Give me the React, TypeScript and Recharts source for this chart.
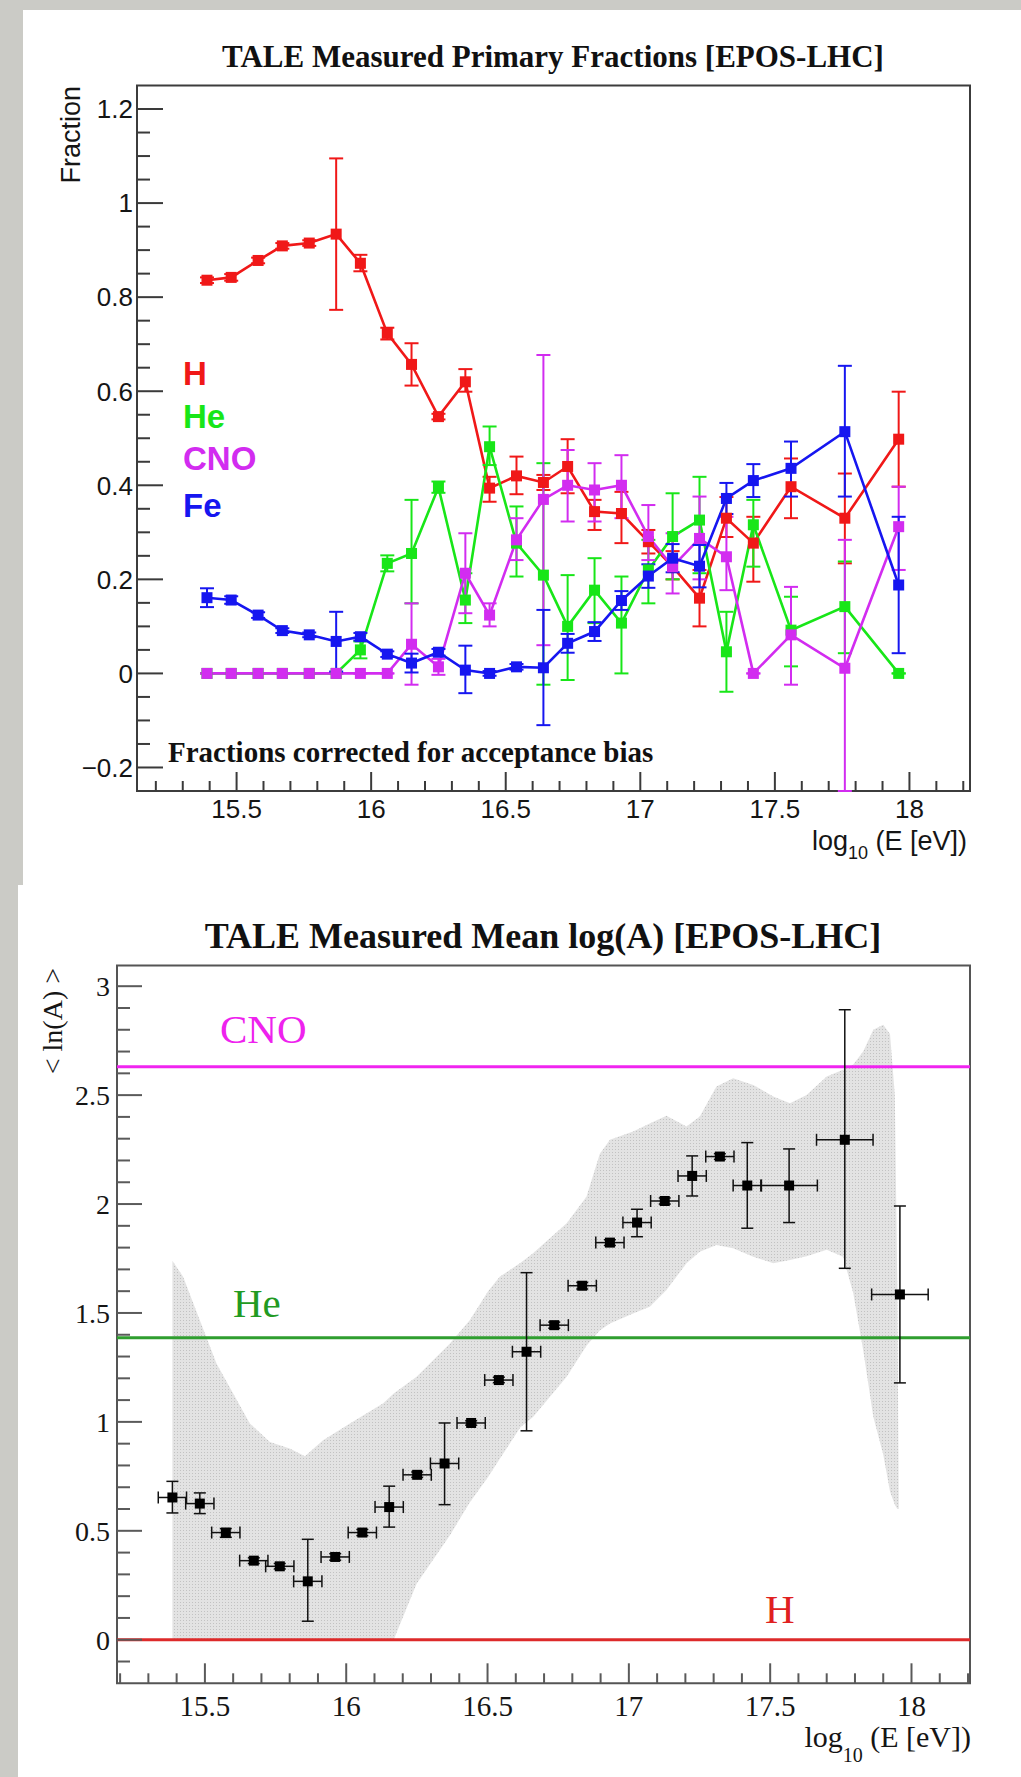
import React from 'react';
import {
  ComposedChart, Line, Area, Scatter, XAxis, YAxis, ErrorBar, ReferenceLine, ReferenceArea,
} from 'recharts';

// ---------------- Top panel: primary fractions ----------------
const energyBins = [15.39, 15.48, 15.58, 15.67, 15.77, 15.87, 15.96, 16.06, 16.15, 16.25, 16.35, 16.44, 16.54, 16.64, 16.73, 16.83, 16.93, 17.03, 17.12, 17.22, 17.32, 17.42, 17.56, 17.76, 17.96];

const hFrac = [0.836, 0.842, 0.878, 0.909, 0.915, 0.934, 0.872, 0.723, 0.657, 0.546, 0.620, 0.394, 0.420, 0.406, 0.440, 0.344, 0.340, 0.280, 0.227, 0.160, 0.330, 0.277, 0.397, 0.330, 0.498];
const hLow = [0.830, 0.835, 0.872, 0.903, 0.909, 0.773, 0.855, 0.710, 0.612, 0.540, 0.599, 0.365, 0.381, 0.390, 0.383, 0.305, 0.277, 0.255, 0.200, 0.100, 0.290, 0.195, 0.330, 0.234, 0.397];
const hHigh = [0.842, 0.849, 0.884, 0.915, 0.921, 1.095, 0.890, 0.735, 0.702, 0.552, 0.647, 0.418, 0.461, 0.422, 0.498, 0.369, 0.386, 0.305, 0.260, 0.220, 0.375, 0.333, 0.457, 0.425, 0.599];

const heFrac = [0, 0, 0, 0, 0, 0, 0.050, 0.234, 0.255, 0.396, 0.156, 0.482, 0.277, 0.209, 0.100, 0.177, 0.107, 0.220, 0.291, 0.326, 0.046, 0.316, 0.092, 0.142, 0.000];
const heLow = [0, 0, 0, 0, 0, 0, 0.032, 0.217, 0.149, 0.384, 0.107, 0.443, 0.206, -0.024, -0.014, 0.107, 0.000, 0.149, 0.200, 0.213, -0.039, 0.227, 0.015, 0.043, 0];
const heHigh = [0, 0, 0, 0, 0, 0, 0.068, 0.251, 0.369, 0.408, 0.213, 0.525, 0.355, 0.447, 0.209, 0.245, 0.206, 0.284, 0.383, 0.418, 0.131, 0.369, 0.163, 0.238, 0];

const cnoFrac = [0, 0, 0, 0, 0, 0, 0, 0, 0.062, 0.014, 0.213, 0.124, 0.284, 0.370, 0.400, 0.390, 0.400, 0.291, 0.227, 0.287, 0.248, 0.000, 0.082, 0.011, 0.312];
const cnoLow = [0, 0, 0, 0, 0, 0, 0, 0, -0.024, -0.003, 0.128, 0.100, 0.241, 0.060, 0.323, 0.323, 0.330, 0.241, 0.170, 0.200, 0.177, 0, -0.024, -0.250, 0.220];
const cnoHigh = [0, 0, 0, 0, 0, 0, 0, 0, 0.149, 0.031, 0.298, 0.149, 0.330, 0.677, 0.475, 0.447, 0.464, 0.358, 0.298, 0.376, 0.333, 0, 0.184, 0.284, 0.397];

const feFrac = [0.161, 0.156, 0.124, 0.091, 0.082, 0.068, 0.078, 0.041, 0.022, 0.045, 0.007, 0.000, 0.014, 0.012, 0.064, 0.089, 0.155, 0.207, 0.245, 0.228, 0.372, 0.410, 0.436, 0.514, 0.188];
const feLow = [0.141, 0.148, 0.118, 0.086, 0.077, 0.004, 0.070, 0.035, 0.002, 0.038, -0.042, -0.005, 0.008, -0.110, 0.044, 0.069, 0.135, 0.182, 0.215, 0.183, 0.339, 0.375, 0.376, 0.376, 0.043];
const feHigh = [0.181, 0.164, 0.130, 0.096, 0.087, 0.131, 0.086, 0.047, 0.042, 0.052, 0.059, 0.005, 0.020, 0.135, 0.084, 0.109, 0.175, 0.232, 0.275, 0.273, 0.405, 0.445, 0.493, 0.654, 0.333];

const topXMajor = [15.5, 16, 16.5, 17, 17.5, 18];
const topYMajor = [-0.2, 0, 0.2, 0.4, 0.6, 0.8, 1.0, 1.2];
const speciesNames = ['H', 'He', 'CNO', 'Fe'];
const speciesColors = ['#f01818', '#18e618', '#d22cf0', '#1616f0'];

// ---------------- Bottom panel: mean ln(A) ----------------
const lnAEnergy = [15.385, 15.482, 15.574, 15.673, 15.765, 15.864, 15.961, 16.057, 16.152, 16.251, 16.348, 16.442, 16.540, 16.638, 16.736, 16.835, 16.933, 17.029, 17.127, 17.224, 17.322, 17.419, 17.567, 17.764, 17.959];
const lnA = [0.653, 0.625, 0.492, 0.363, 0.337, 0.268, 0.380, 0.492, 0.609, 0.757, 0.809, 0.995, 1.192, 1.322, 1.444, 1.625, 1.823, 1.915, 2.014, 2.129, 2.218, 2.085, 2.085, 2.295, 1.585];
const lnALow = [0.582, 0.579, 0.470, 0.350, 0.325, 0.085, 0.365, 0.478, 0.517, 0.745, 0.620, 0.985, 1.180, 0.959, 1.430, 1.610, 1.810, 1.850, 2.000, 2.037, 2.205, 1.889, 1.915, 1.705, 1.179];
const lnAHigh = [0.727, 0.674, 0.510, 0.376, 0.350, 0.461, 0.395, 0.506, 0.705, 0.770, 0.995, 1.005, 1.205, 1.685, 1.458, 1.640, 1.836, 1.976, 2.028, 2.221, 2.231, 2.282, 2.253, 2.892, 1.991];
const binHalfWidth = [0.05, 0.05, 0.05, 0.05, 0.05, 0.05, 0.05, 0.05, 0.05, 0.05, 0.05, 0.05, 0.05, 0.05, 0.05, 0.05, 0.05, 0.05, 0.05, 0.05, 0.05, 0.05, 0.1, 0.1, 0.1];

const bandEnergy = [15.385, 15.423, 15.482, 15.541, 15.600, 15.659, 15.730, 15.800, 15.854, 15.918, 16.013, 16.131, 16.168, 16.249, 16.367, 16.437, 16.502, 16.543, 16.617, 16.661, 16.780, 16.850, 16.897, 16.933, 17.015, 17.074, 17.133, 17.204, 17.251, 17.310, 17.369, 17.440, 17.511, 17.570, 17.629, 17.700, 17.758, 17.794, 17.829, 17.865, 17.900, 17.924, 17.941, 17.950, 17.955];
const bandLow = [0, 0, 0, 0, 0, 0, 0, 0, 0, 0, 0, 0, 0, 0.257, 0.48, 0.63, 0.747, 0.83, 0.977, 1.023, 1.207, 1.35, 1.42, 1.452, 1.498, 1.528, 1.605, 1.728, 1.781, 1.812, 1.797, 1.758, 1.728, 1.743, 1.76, 1.79, 1.758, 1.59, 1.33, 1.023, 0.85, 0.68, 0.62, 0.6, 0.6];
const bandHigh = [1.74, 1.666, 1.467, 1.268, 1.13, 0.993, 0.908, 0.878, 0.842, 0.916, 0.993, 1.085, 1.13, 1.207, 1.36, 1.467, 1.6, 1.666, 1.73, 1.774, 1.912, 2.034, 2.23, 2.295, 2.333, 2.37, 2.405, 2.356, 2.402, 2.54, 2.578, 2.547, 2.494, 2.463, 2.501, 2.585, 2.616, 2.64, 2.7, 2.8, 2.823, 2.78, 2.5, 1.6, 0.6];

const massLines = [
  { name: 'H', value: 0, color: '#dd2a2a' },
  { name: 'He', value: 1.386, color: '#2f9e2f' },
  { name: 'CNO', value: 2.63, color: '#f024f0' },
];
const botXMajor = [15.5, 16, 16.5, 17, 17.5, 18];
const botYMajor = [0, 0.5, 1, 1.5, 2, 2.5, 3];

// ---------------- derived tables ----------------
const topData = energyBins.map((e, i) => ({
  x: e,
  H: hFrac[i], HErr: [hFrac[i] - hLow[i], hHigh[i] - hFrac[i]],
  He: heFrac[i], HeErr: [heFrac[i] - heLow[i], heHigh[i] - heFrac[i]],
  CNO: cnoFrac[i], CNOErr: [cnoFrac[i] - cnoLow[i], cnoHigh[i] - cnoFrac[i]],
  Fe: feFrac[i], FeErr: [feFrac[i] - feLow[i], feHigh[i] - feFrac[i]],
}));

const bandData = bandEnergy.map((e, i) => ({ x: e, band: [bandLow[i], bandHigh[i]] }));
const lnAData = lnAEnergy.map((e, i) => ({
  x: e, y: lnA[i],
  yErr: [lnA[i] - lnALow[i], lnAHigh[i] - lnA[i]],
  xErr: binHalfWidth[i],
}));

const range = (a: number, b: number, step: number) => {
  const out: number[] = [];
  const n = Math.round((b - a) / step);
  for (let k = 0; k <= n; k++) out.push(Math.round((a + k * step) * 1000) / 1000);
  return out;
};
const topXTicks = range(15.2, 18.2, 0.1);
const topYTicks = range(-0.2, 1.2, 0.05);
const botXTicks = range(15.2, 18.2, 0.1);
const botYTicks = range(-0.1, 3.0, 0.1);

const isMajor = (v: number, majors: number[]) => majors.some((m) => Math.abs(m - v) < 1e-6);
const fmt = (v: number) => String(Math.round(v * 100) / 100).replace('-', '\u2212');

const SANS = 'Liberation Sans, Arial, sans-serif';
const SERIF = 'Liberation Serif, Times New Roman, serif';

const makeXTick = (majors: number[], majLen: number, minLen: number, font: string, size: number, dy: number, stroke: string) =>
  (props: any) => {
    const { x, y, payload } = props;
    const v = Math.round(payload.value * 1000) / 1000;
    const maj = isMajor(v, majors);
    return (
      <g>
        <line x1={x} x2={x} y1={y} y2={y - (maj ? majLen : minLen)} stroke={stroke} strokeWidth={2} />
        {maj && (
          <text x={x} y={y + dy} textAnchor="middle" fontFamily={font} fontSize={size} fill="#151515">{fmt(v)}</text>
        )}
      </g>
    );
  };

const makeYTick = (majors: number[], majLen: number, minLen: number, font: string, size: number, dx: number, dy: number, stroke: string) =>
  (props: any) => {
    const { x, y, payload } = props;
    const v = Math.round(payload.value * 1000) / 1000;
    const maj = isMajor(v, majors);
    return (
      <g>
        <line x1={x} x2={x + (maj ? majLen : minLen)} y1={y} y2={y} stroke={stroke} strokeWidth={2} />
        {maj && (
          <text x={x - dx} y={y + dy} textAnchor="end" fontFamily={font} fontSize={size} fill="#151515">{fmt(v)}</text>
        )}
      </g>
    );
  };

const squareDot = (color: string, size: number) => (p: any) => {
  const key = `${color}-${p.index}`;
  if (p.cx == null || p.cy == null) return <g key={key} />;
  return <rect key={key} x={p.cx - size / 2} y={p.cy - size / 2} width={size} height={size} fill={color} />;
};

const TOP_X: [number, number] = [15.13, 18.225];
const TOP_Y: [number, number] = [-0.25, 1.25];
const BOT_X: [number, number] = [15.189, 18.207];
const BOT_Y: [number, number] = [-0.2, 3.095];

function TopChart() {
  return (
    <ComposedChart width={1021} height={885} data={topData} margin={{ left: 136, right: 51, top: 85.5, bottom: 93 }}>
      <XAxis dataKey="x" type="number" domain={TOP_X} allowDataOverflow ticks={topXTicks} interval={0}
        height={1} tickSize={0} tickMargin={0} axisLine={false} tickLine={false}
        tick={makeXTick(topXMajor, 19, 10, SANS, 26, 27, '#3a3a3a')} />
      <YAxis type="number" domain={TOP_Y} allowDataOverflow ticks={topYTicks} interval={0}
        width={1} tickSize={0} tickMargin={0} axisLine={false} tickLine={false}
        tick={makeYTick(topYMajor, 26, 13, SANS, 26, 4, 9.3, '#3a3a3a')} />
      {speciesNames.map((s, i) => (
        <Line key={s} dataKey={s} type="linear" stroke={speciesColors[i]} strokeWidth={2.6}
          dot={squareDot(speciesColors[i], 11)} activeDot={false} isAnimationActive={false}>
          <ErrorBar dataKey={`${s}Err`} direction="y" width={7} stroke={speciesColors[i]} strokeWidth={2} />
        </Line>
      ))}
      <ReferenceArea x1={TOP_X[0]} x2={TOP_X[1]} y1={TOP_Y[0]} y2={TOP_Y[1]} fill="none" fillOpacity={0}
        stroke="#3c3c3c" strokeWidth={2} ifOverflow="visible" />
    </ComposedChart>
  );
}

function BottomChart() {
  return (
    <ComposedChart width={1021} height={892} data={bandData} margin={{ left: 116, right: 51, top: 80.5, bottom: 92.7 }}>
      <defs>
        <pattern id="bandPattern" width="3" height="3" patternUnits="userSpaceOnUse">
          <rect width="3" height="3" fill="#e3e3e3" />
          <rect width="1" height="1" fill="#c2c2c2" />
        </pattern>
      </defs>
      <XAxis dataKey="x" type="number" domain={BOT_X} allowDataOverflow ticks={botXTicks} interval={0}
        height={1} tickSize={0} tickMargin={0} axisLine={false} tickLine={false}
        tick={makeXTick(botXMajor, 20, 10, SERIF, 29, 33, '#5a5a5a')} />
      <YAxis type="number" domain={BOT_Y} allowDataOverflow ticks={botYTicks} interval={0}
        width={1} tickSize={0} tickMargin={0} axisLine={false} tickLine={false}
        tick={makeYTick(botYMajor, 25, 13, SERIF, 28, 7, 10, '#5a5a5a')} />
      <Area dataKey="band" type="linear" stroke="none" fill="url(#bandPattern)" fillOpacity={1}
        isAnimationActive={false} activeDot={false} dot={false} />
      {massLines.map((m) => (
        <ReferenceLine key={m.name} y={m.value} stroke={m.color} strokeWidth={3} ifOverflow="visible" />
      ))}
      <Scatter data={lnAData} dataKey="y" fill="#000" isAnimationActive={false}
        shape={(p: any) => <rect x={p.cx - 5} y={p.cy - 5} width={10} height={10} fill="#000" />}>
        <ErrorBar dataKey="yErr" direction="y" width={6} stroke="#111" strokeWidth={1.5} />
        <ErrorBar dataKey="xErr" direction="x" width={6} stroke="#111" strokeWidth={1.5} />
      </Scatter>
      <ReferenceArea x1={BOT_X[0]} x2={BOT_X[1]} y1={BOT_Y[0]} y2={BOT_Y[1]} fill="none" fillOpacity={0}
        stroke="#555" strokeWidth={2} ifOverflow="visible" />
    </ComposedChart>
  );
}

const legendBaselines = [385, 428, 470, 517];

export default function App() {
  return (
    <div style={{ position: 'absolute', left: 0, top: 0, width: 1021, height: 1777, background: '#cbcbc6', overflow: 'hidden' }}>
      <div style={{ position: 'absolute', left: 23, top: 10, width: 998, height: 875, background: '#ffffff' }} />
      <div style={{ position: 'absolute', left: 18, top: 885, width: 1003, height: 892, background: '#ffffff' }} />
      <div style={{ position: 'absolute', left: 0, top: 0 }}>
        <TopChart />
      </div>
      <div style={{ position: 'absolute', left: 0, top: 885 }}>
        <BottomChart />
      </div>
      <svg width={1021} height={1777} style={{ position: 'absolute', left: 0, top: 0, pointerEvents: 'none' }}>
        {/* top panel texts */}
        <text x={553} y={67} textAnchor="middle" fontFamily={SERIF} fontWeight="bold" fontSize={31} fill="#111">
          TALE Measured Primary Fractions [EPOS-LHC]
        </text>
        <text transform="translate(80,86) rotate(-90)" textAnchor="end" fontFamily={SANS} fontSize={27} fill="#151515">
          Fraction
        </text>
        <text x={967} y={850} textAnchor="end" fontFamily={SANS} fontSize={27} fill="#151515">
          log<tspan fontSize={18} dy={9}>10</tspan><tspan dy={-9}> (E [eV])</tspan>
        </text>
        {speciesNames.map((s, i) => (
          <text key={s} x={183} y={legendBaselines[i]} fontFamily={SANS} fontWeight="bold" fontSize={33} fill={speciesColors[i]}>
            {s}
          </text>
        ))}
        <text x={168} y={762} fontFamily={SERIF} fontWeight="bold" fontSize={29} fill="#111">
          Fractions corrected for acceptance bias
        </text>

        {/* bottom panel texts */}
        <text x={543} y={948} textAnchor="middle" fontFamily={SERIF} fontWeight="bold" fontSize={36} fill="#111">
          TALE Measured Mean log(A) [EPOS-LHC]
        </text>
        <text transform="translate(62,968) rotate(-90)" textAnchor="end" fontFamily={SERIF} fontSize={28} fill="#151515">
          {'< ln(A) >'}
        </text>
        <text x={971} y={1747} textAnchor="end" fontFamily={SERIF} fontSize={30} fill="#151515">
          log<tspan fontSize={20} dy={15}>10</tspan><tspan dy={-15}> (E [eV])</tspan>
        </text>
        <text x={220} y={1043} fontFamily={SERIF} fontSize={41} fill="#ee22ee">CNO</text>
        <text x={233} y={1317} fontFamily={SERIF} fontSize={41} fill="#229a22">He</text>
        <text x={765} y={1623} fontFamily={SERIF} fontSize={41} fill="#e02020">H</text>
      </svg>
    </div>
  );
}
